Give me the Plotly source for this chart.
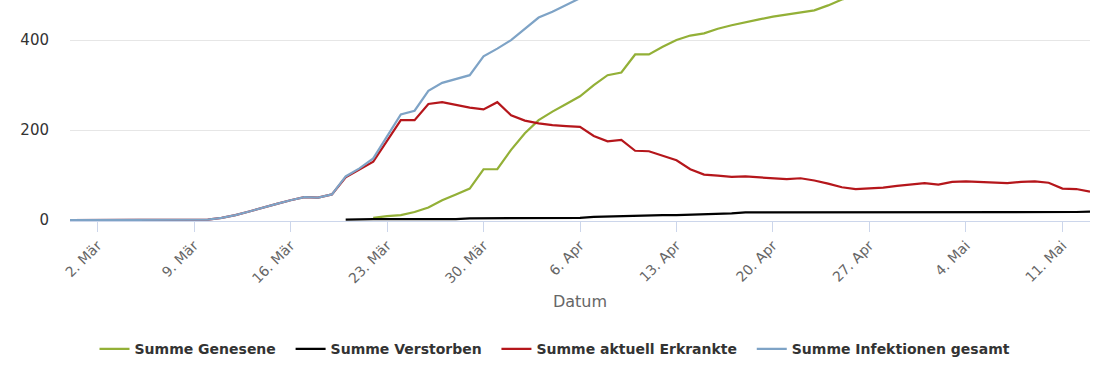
import datetime as dt
import plotly.graph_objects as go

start = dt.date(2020, 2, 29)
n_days = 75
dates = [(start + dt.timedelta(days=i)).isoformat() for i in range(n_days)]

# Summe Infektionen gesamt (Feb 29 .. May 13)
infektionen = [0, 0, 0, 1, 1, 1, 1, 1, 1, 1, 1, 5, 11, 19, 28, 36, 44, 51, 50, 57,
               97, 115, 137, 185, 235, 243, 287, 305, 313, 322, 364, 381, 400, 426, 450,
               463, 478, 493, 500, 508, 515, 530, 532, 536, 542, 545, 548, 552, 556, 560,
               563, 566, 569, 572, 576, 580, 584, 587, 590, 593, 596, 599, 602, 605, 608,
               611, 614, 617, 620, 623, 626, 629, 632, 635, 637]

# Summe aktuell Erkrankte
erkrankte = [0, 0, 0, 1, 1, 1, 1, 1, 1, 1, 1, 5, 11, 19, 28, 36, 44, 51, 50, 57,
             95, 112, 130, 176, 222, 222, 258, 262, 256, 250, 246, 262, 233, 221, 215,
             211, 209, 207, 187, 175, 178, 154, 153, 143, 133, 113, 101, 99, 96, 97,
             95, 94, 91, 93, 88, 81, 73, 69, 70, 72, 76, 79, 82, 79, 85,
             86, 85, 83, 82, 85, 86, 83, 70, 69, 63]

# Summe Genesene (from Mar 22)
genesene = [None] * 22 + [5, 9, 11, 18, 28, 44, 57, 70, 113, 113, 156, 193, 222,
                          241, 258, 275, 300, 322, 328, 368, 368, 385, 400, 410, 415, 425,
                          433, 440, 446, 452, 457, 461, 466, 477, 490, 498, 505, 510, 515,
                          520, 524, 528, 531, 534, 537, 540, 543, 546, 549, 552, 555, 558, 560]

# Summe Verstorben (from Mar 20)
verstorben = [None] * 20 + [1, 2, 2, 2, 2, 2, 2, 2, 2, 4, 4, 4, 4, 4, 4,
                            5, 5, 5, 7, 8, 9, 10, 10, 11, 11, 12, 12, 13, 15, 17,
                            17, 18, 18, 18, 18, 18, 18, 18, 18, 18, 18, 18, 18, 18, 18,
                            18, 18, 18, 18, 18, 18, 18, 18, 18, 19]

tick_dates = ["2020-03-02", "2020-03-09", "2020-03-16", "2020-03-23", "2020-03-30",
              "2020-04-06", "2020-04-13", "2020-04-20", "2020-04-27", "2020-05-04",
              "2020-05-11"]
tick_labels = ["2. Mär", "9. Mär", "16. Mär", "23. Mär", "30. Mär", "6. Apr",
               "13. Apr", "20. Apr", "27. Apr", "4. Mai", "11. Mai"]

series_names = ["Summe Genesene", "Summe Verstorben", "Summe aktuell Erkrankte",
                "Summe Infektionen gesamt"]
series_values = [genesene, verstorben, erkrankte, infektionen]
series_colors = ["#93b037", "#000000", "#b5161b", "#7ea3c6"]

fig = go.Figure()
for i, (name, vals, color) in enumerate(zip(series_names, series_values, series_colors)):
    label = name + ("\u00a0\u00a0" if i < len(series_names) - 1 else "")
    fig.add_trace(go.Scatter(x=dates, y=vals, name=label, mode="lines",
                             line=dict(color=color, width=2.2), connectgaps=False))

fig.update_layout(
    width=1110, height=370,
    margin=dict(l=70, r=20, t=0, b=149, autoexpand=False),
    paper_bgcolor="white", plot_bgcolor="white",
    font=dict(family="DejaVu Sans", color="#333333"),
    showlegend=True,
    legend=dict(orientation="h", x=0.5, xanchor="center", xref="container",
                y=-0.58, yanchor="middle", yref="paper",
                font=dict(size=14, color="#333333", family="DejaVu Sans", weight="bold"),
                itemwidth=30, traceorder="normal"),
)
fig.update_xaxes(
    range=["2020-02-29", "2020-05-13"],
    tickvals=tick_dates, ticktext=tick_labels, tickangle=-45,
    tickfont=dict(size=14, color="#666666"),
    ticks="outside", ticklen=10, tickcolor="#ccd6eb",
    showgrid=False, showline=True, linecolor="#ccd6eb", linewidth=1,
    title=dict(text="Datum", font=dict(size=16, color="#666666"), standoff=10),
    zeroline=False,
)
fig.update_yaxes(
    range=[-2, 489],
    tickvals=[0, 200, 400], ticktext=["0", "200", "400"],
    tickfont=dict(size=15, color="#333333"),
    showgrid=True, gridcolor="#e6e6e6", gridwidth=1,
    zeroline=False, ticks="", ticklabelstandoff=20,
)

fig.write_html("out.html", config={"displayModeBar": False},
               post_script="document.body.style.margin='0';")
